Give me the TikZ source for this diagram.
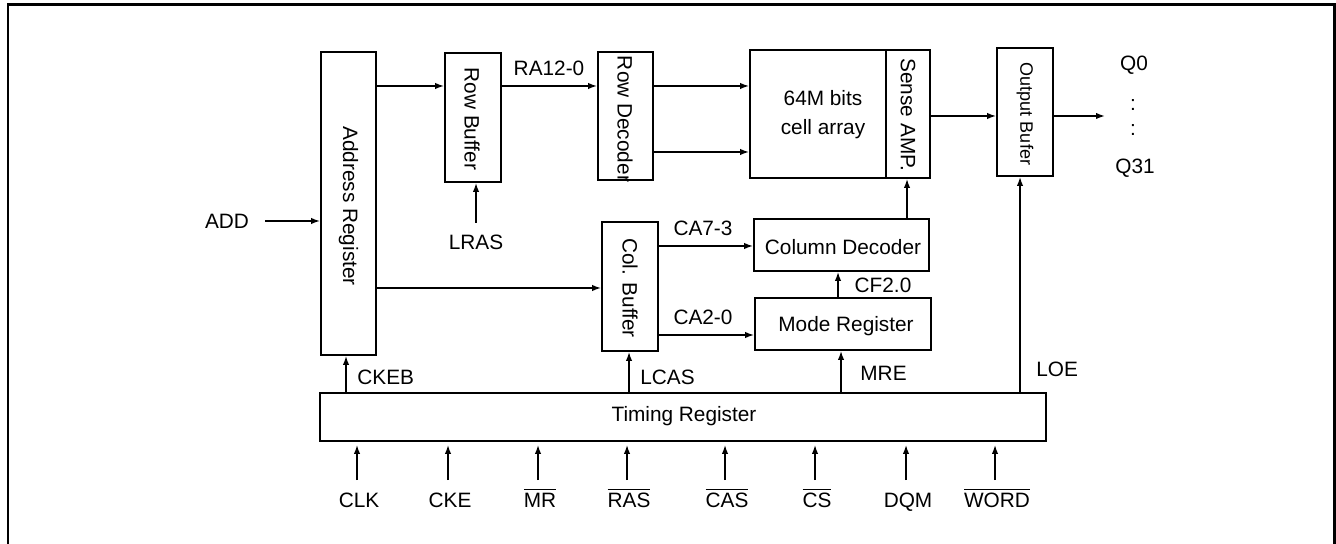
\documentclass[tikz,border=0pt]{standalone}
\usepackage{fontspec}
\setmainfont{Liberation Sans}
\usetikzlibrary{arrows.meta}
\begin{document}
\begin{tikzpicture}[x=0.5pt,y=-0.5pt,
  box/.style={draw, line width=0.9pt, inner sep=0pt},
  lbl/.style={inner sep=0pt, font=\fontsize{10.4}{12}\selectfont},
  small/.style={inner sep=0pt, font=\fontsize{9}{11}\selectfont},
  arr/.style={line width=0.75pt, -{Latex[length=4.5pt,width=3.2pt]}},
  ln/.style={line width=0.75pt}]
\useasboundingbox (0,0) rectangle (1336,544);
\draw[line width=1.3pt] (8,544) -- (8,4.5) -- (1334.5,4.5) -- (1334.5,544);

% boxes
\node[box, minimum width=27.5pt, minimum height=151.5pt] (addr) at (348.5,203.5) {};
\node[box, minimum width=28pt, minimum height=64.5pt] (rowbuf) at (473,117.5) {};
\node[box, minimum width=27.5pt, minimum height=64pt] (rowdec) at (625.5,116) {};
\node[box, minimum width=68pt, minimum height=64pt] (cell) at (818,114) {};
\node[box, minimum width=22pt, minimum height=64pt] (sense) at (908,114) {};
\node[box, minimum width=28pt, minimum height=64pt] (outbuf) at (1025,112) {};
\node[box, minimum width=87.5pt, minimum height=26pt] (coldec) at (841.5,245) {};
\node[box, minimum width=88pt, minimum height=26pt] (moderg) at (843,324) {};
\node[box, minimum width=28pt, minimum height=64.5pt] (colbuf) at (630,286.5) {};
\node[box, minimum width=363pt, minimum height=24pt] (timing) at (683,417) {};

% box texts
\node[lbl, rotate=-90] (addrt) at (348.5,206) {Address Register};
\node[lbl, rotate=-90] (rowbuft) at (472,119) {Row Buffer};
\node[lbl, rotate=-90] (rowdect) at (625,119) {Row Decoder};
\node[lbl] (cellt1) at (823,98) {64M bits};
\node[lbl] (cellt2) at (823,129) {cell array};
\node[lbl, rotate=-90] (senset) at (908,115) {Sense AMP.};
\node[small, rotate=-90] (outbuft) at (1025,114) {Output Bufer};
\node[lbl] (coldect) at (843,247) {Column Decoder};
\node[lbl] (modergt) at (846,326) {Mode Register};
\node[lbl, rotate=-90] (colbuft) at (630,288) {Col. Buffer};
\node[lbl] (timingt) at (684,416) {Timing Register};

% top path
\node[lbl] (add) at (227,221) {ADD};
\draw[arr] ([xshift=8pt]add.east) -- (add -| addr.west);
\draw[arr] (addr.east |- 0,86) -- (rowbuf.west |- 0,86);
\draw[arr] (rowbuf.east |- 0,86) -- (rowdec.west |- 0,86);
\node[lbl] (ra) at (549,68) {RA12-0};
\draw[arr] (rowdec.east |- 0,86) -- (cell.west |- 0,86);
\draw[arr] (rowdec.east |- 0,152) -- (cell.west |- 0,152);
\draw[arr] (sense.east |- 0,116) -- (outbuf.west |- 0,116);
\coordinate (qout) at (1105,116);
\draw[arr] (outbuf.east |- qout) -- (qout);
\node[lbl] (q0) at (1134,65) {Q0};
\node[lbl] (qd1) at (1133,105) {:};
\node[lbl] (qd2) at (1133,130) {:};
\node[lbl] (q31) at (1135,168) {Q31};

\node[lbl] (lras) at (476,242) {LRAS};
\draw[arr] (476,223) -- (476,0 |- rowbuf.south);

% column path
\draw[arr] (addr.east |- 0,288) -- (colbuf.west |- 0,288);
\draw[arr] (colbuf.east |- 0,246) -- (coldec.west |- 0,246);
\node[lbl] (ca73) at (703,228) {CA7-3};
\draw[arr] (colbuf.east |- 0,335) -- (moderg.west |- 0,335);
\node[lbl] (ca20) at (703,317) {CA2-0};
\draw[arr] (838,0 |- moderg.north) -- (838,0 |- coldec.south);
\node[lbl] (cf) at (883,285) {CF2.0};
\draw[arr] (907,0 |- coldec.north) -- (907,0 |- sense.south);

% timing outputs
\draw[arr] (346,0 |- timing.north) -- (346,0 |- addr.south);
\node[lbl, anchor=west] (ckeb) at (357,377) {CKEB};
\draw[arr] (629,0 |- timing.north) -- (629,0 |- colbuf.south);
\node[lbl, anchor=west] (lcas) at (640,377) {LCAS};
\draw[arr] (841,0 |- timing.north) -- (841,0 |- moderg.south);
\node[lbl, anchor=west] (mre) at (860,373) {MRE};
\draw[arr] (1020,0 |- timing.north) -- (1020,0 |- outbuf.south);
\node[lbl, anchor=west] (loe) at (1036,369) {LOE};

% timing inputs
\foreach \nm/\xx/\tx in {clk/357/CLK, cke/448/CKE, mr/538/$\overline{\mbox{MR}}$, ras/627/$\overline{\mbox{RAS}}$, cas/725/$\overline{\mbox{CAS}}$, cs/815/$\overline{\mbox{CS}}$, dqm/906/DQM, word/995/$\overline{\mbox{WORD}}$}{
  \node[lbl, anchor=base] (\nm) at (\xx+2,507) {\tx};
  \draw[arr, shorten >=1.5pt] (\xx,480) -- (\xx,0 |- timing.south);
}
\end{tikzpicture}
\end{document}
